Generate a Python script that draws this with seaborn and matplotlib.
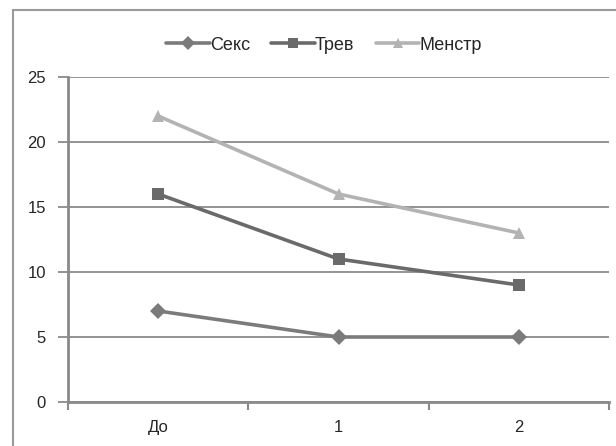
import matplotlib
matplotlib.use("Agg")
import matplotlib.pyplot as plt
import seaborn as sns
import pandas as pd
from matplotlib.patches import Rectangle
from matplotlib.ticker import FixedLocator

categories = ["До", "1", "2"]
seks = [7, 5, 5]
trev = [16, 11, 9]
menstr = [22, 16, 13]
series_names = ["Секс", "Трев", "Менстр"]
y_ticks = [0, 5, 10, 15, 20, 25]

rows = []
for name, vals in zip(series_names, [seks, trev, menstr]):
    for c, v in zip(categories, vals):
        rows.append({"cat": c, "val": v, "series": name})
df = pd.DataFrame(rows)

sns.set_theme(style="white")
plt.rcParams["font.family"] = ["Liberation Sans", "DejaVu Sans"]

fig = plt.figure(figsize=(6.16, 4.46), dpi=100)
ax = fig.add_axes([68/616, 1-402/446, (609-68)/616, (402-77)/446])

palette = {"Секс": "#7b7b7b", "Трев": "#6a6a6a", "Менстр": "#b3b3b3"}
markers = {"Секс": "D", "Трев": "s", "Менстр": "^"}
sns.lineplot(data=df, x="cat", y="val", hue="series", style="series",
             palette=palette, markers=markers, dashes=False, sort=False,
             linewidth=2.6, markersize=8, markeredgewidth=0, ax=ax,
             hue_order=series_names, style_order=series_names)

ax.set_xlim(-0.5, 2.5)
ax.set_ylim(0, 25)
ax.set_yticks(y_ticks)
ax.yaxis.grid(True, color="#8a8a8a", linewidth=1.3)
ax.set_axisbelow(True)
ax.set_xlabel("")
ax.set_ylabel("")
for s in ["top", "right"]:
    ax.spines[s].set_visible(False)
for s in ["left", "bottom"]:
    ax.spines[s].set_color("#8a8a8a")
    ax.spines[s].set_linewidth(2)
ax.tick_params(axis="y", length=7, width=1.3, color="#8a8a8a", labelsize=12,
               labelcolor="#262626", pad=9, left=True, direction="out")
ax.tick_params(axis="x", which="major", length=0, labelsize=12,
               labelcolor="#262626", pad=13)
ax.xaxis.set_minor_locator(FixedLocator([-0.5, 0.5, 1.5, 2.5]))
ax.tick_params(axis="x", which="minor", length=6, width=1.5,
               color="#8a8a8a", bottom=True, direction="out")
ax.set_xticks([0, 1, 2])
ax.set_xticklabels(categories)

handles, labels = ax.get_legend_handles_labels()
for h in handles:
    h.set_markersize(7)
ax.legend_.remove()
fig.legend(handles, labels, loc="center", bbox_to_anchor=(324/616, 1-45/446),
           ncol=3, frameon=False, fontsize=13, handlelength=2.4,
           handletextpad=0.0, columnspacing=1.2, labelcolor="#262626")

fig.patches.append(Rectangle((13/616, -0.1), 1.2, 1.1 - 10/446, transform=fig.transFigure,
                             fill=False, edgecolor="#9a9a9a", linewidth=1.5))

fig.savefig("out.png", dpi=100)
